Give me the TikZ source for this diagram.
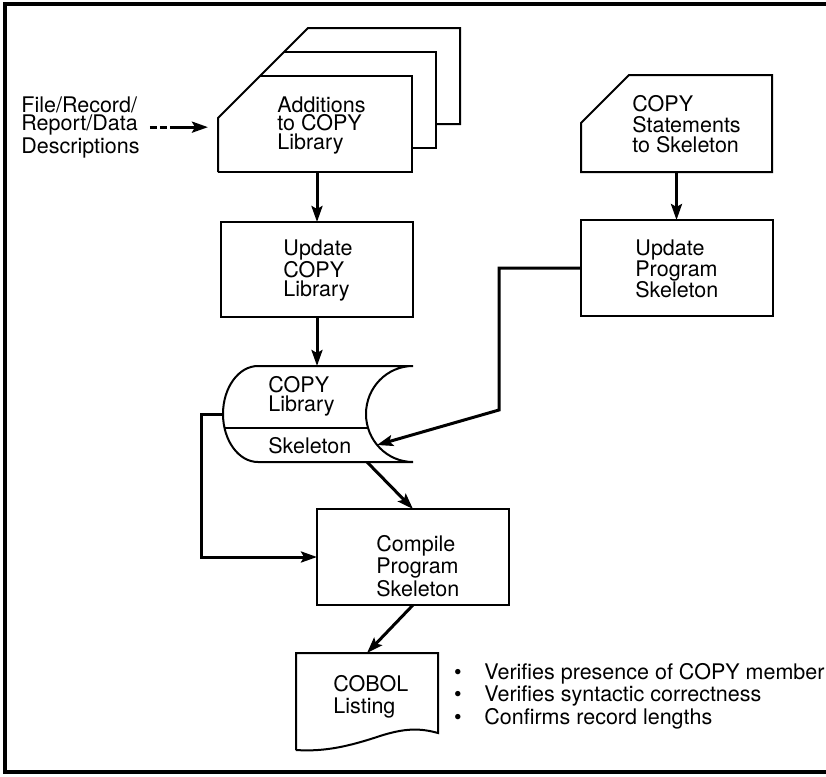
\documentclass[tikz,border=0pt]{standalone}
\usepackage{fontspec}
\setmainfont{TeX Gyre Heros}
\usetikzlibrary{arrows.meta,calc}
\newcommand{\notedot}{\makebox[16pt][l]{\hspace{0.8pt}\textbullet}}
\begin{document}
\begin{tikzpicture}[x=0.5pt,y=-0.5pt,
  lead/.style={font=\fontsize{10.75pt}{#1}\selectfont},
  lead=9.5pt,
  outline/.style={line width=1pt, line join=miter},
  flow/.style={line width=1.5pt, -{Stealth[length=8pt,width=5.5pt,inset=1.5pt]}},
  txt/.style={anchor=north west, inner sep=0pt, align=left},
  area/.style={inner sep=0pt, outer sep=0pt},
  procbox/.style={area, draw, outline, minimum width=96pt, minimum height=48pt},
  frame/.style={line width=1.6pt}
]
\useasboundingbox (0,0) rectangle (826,777);

% page frame (open on the right)
\draw[frame] (826,4) -- (5,4) -- (5,772) -- (826,772);

% ---------- card deck: additions to the COPY library ----------
\node[area, minimum width=97pt, minimum height=48pt] (add) at (315,124) {};
\draw[outline] (218,172) -- (218,118) -- (308,28) -- (460,28) -- (460,124) -- (436,124);
\draw[outline] (284,52) -- (436,52) -- (436,148) -- (412,148);
\draw[outline] (260,76) -- (412,76) -- (412,172) -- (218,172);
\node[txt, lead=9.4pt] (addtxt) at (277,96) {Additions\\to COPY\\Library};

\node[txt, lead=9.4pt] (files) at (21,96) {File/Record/\\Report/Data\\Descriptions};

% ---------- card: COPY statements ----------
\node[area, minimum width=95.5pt, minimum height=48.5pt] (stm) at (676.5,123.5) {};
\draw[outline] (581,172) -- (581,123) -- (629,75) -- (772,75) -- (772,172) -- cycle;
\node[txt, lead=10.3pt] (stmtxt) at (632,95) {COPY\\Statements\\to Skeleton};

% ---------- process boxes ----------
\node[procbox, minimum height=47.5pt] (upcopy) at (317,269.5) {};
\node[txt, lead=9.5pt] (upcopytxt) at (283,239) {Update\\COPY\\Library};

\node[procbox] (upprog) at (677,268) {};
\node[txt, lead=10.5pt] (upprogtxt) at (635,239) {Update\\Program\\Skeleton};

\node[procbox] (compile) at (413,557) {};
\node[txt, lead=9.6pt] (compiletxt) at (376,535) {Compile\\Program\\Skeleton};

% ---------- direct-access library (drum) ----------
\node[area, minimum width=95pt, minimum height=48pt] (lib) at (318,414) {};
\draw[outline] (258,366) -- (413,366)
  arc[start angle=270, end angle=90, x radius=47, y radius=48]
  -- (258,462)
  arc[start angle=90, end angle=270, x radius=35, y radius=48] -- cycle;
\draw[outline] (224.5,428) -- (368,428);
\node[txt, lead=9.6pt] (libtxt) at (268,376) {COPY\\Library};
\node[txt] (skeltxt) at (268,437) {Skeleton};
\coordinate (skel) at (377,445);
\coordinate (libout) at (367,462);
\coordinate (bend) at (499,410);

% ---------- printed listing ----------
\node[area, minimum width=71pt, minimum height=48.5pt] (cobol) at (367,701.5) {};
\draw[outline] (296,750) -- (296,653) -- (438,653) -- (438,733)
  .. controls (420,728) and (405,728) .. (380,736)
  .. controls (350,746) and (325,752) .. (296,750);
\node[txt, lead=11pt] (cobtxt) at (333,675) {COBOL\\Listing};

\node[txt, lead=11.2pt] (notes) at (452,663)
  {\notedot Verifies presence of COPY member\\
   \notedot Verifies syntactic correctness\\
   \notedot Confirms record lengths};

% ---------- connectors ----------
\draw[flow, dash pattern=on 3.5pt off 1.5pt on 3.5pt off 1.5pt on 40pt]
  ([xshift=5pt]files.east) -- ([xshift=-5pt]add.west |- files.east);
\draw[flow] (upcopy.north |- add.south) -- (upcopy.north);
\draw[flow] (upcopy.south) -- (upcopy.south |- lib.north);
\draw[flow] (stm.south) -- (stm.south |- upprog.north);
\draw[flow] (upprog.west) -| (bend) -- (skel);
\draw[flow] (lib.west) -- ++(-22,0) |- (compile.west);
\draw[flow] (libout) -- (compile.north);
\draw[flow] (compile.south) -- (cobol.north);
\end{tikzpicture}
\end{document}
